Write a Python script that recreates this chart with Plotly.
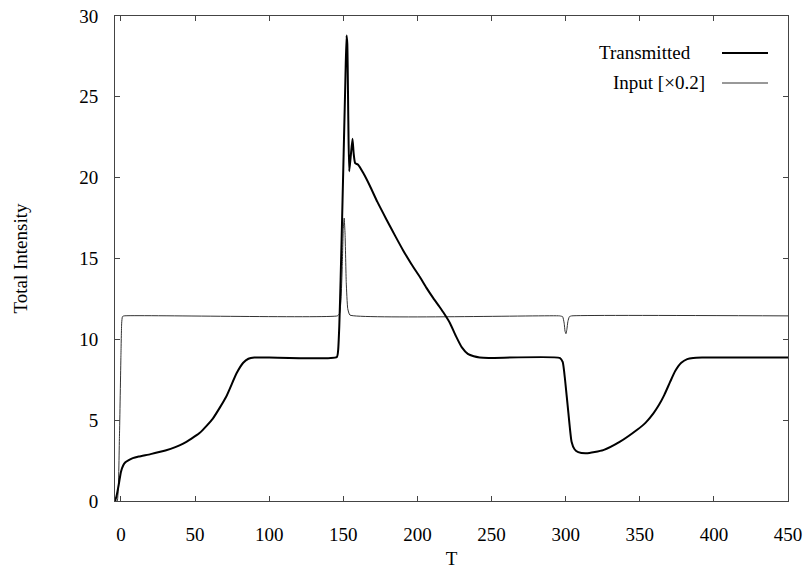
import plotly.graph_objects as go

# Transmitted intensity
trans_T = [-4, -3, -1.5, 0, 1.5, 3, 5, 8, 12, 20, 30, 42, 53, 62, 71, 78, 82.5, 86, 90, 95, 100,
           145.6, 146.5, 147.3, 148.2, 149.5, 150.5, 151.4, 152.2, 152.7, 153.4, 154, 155, 156.2, 157, 158,
           160, 163.4, 167.9, 173, 179.2, 185, 190.4, 196, 201.7, 206, 210.7, 215, 218, 222, 226, 230,
           234, 238, 242, 248,
           296, 298, 299.6, 301.9, 304, 306, 308.5, 314, 325.4, 336.7, 348, 354, 359.2, 363, 366.5, 370.4,
           374, 378, 382, 386, 392, 450]
trans_I = [0.0, 0.3, 1.0, 1.8, 2.2, 2.4, 2.52, 2.65, 2.75, 2.9, 3.12, 3.55, 4.2, 5.1, 6.45, 7.9, 8.55, 8.8, 8.88, 8.88, 8.88,
           8.9, 9.3, 10.8, 13.7, 18.6, 22.5, 26.0, 28.8, 28.3, 23.5, 20.4, 21.3, 22.4, 21.5, 20.9,
           20.8, 20.3, 19.5, 18.5, 17.4, 16.4, 15.5, 14.65, 13.85, 13.2, 12.55, 12.0, 11.6, 11.0, 10.2, 9.5,
           9.1, 8.95, 8.88, 8.85,
           8.85, 8.6, 7.5, 5.4, 3.67, 3.2, 3.02, 2.95, 3.15, 3.67, 4.39, 4.85, 5.42, 5.95, 6.55, 7.35,
           8.05, 8.55, 8.78, 8.85, 8.87, 8.87]

# Input intensity (scaled x0.2)
input_T = [-4, -2.5, -1, 0, 0.5, 1, 2, 146, 147.5, 148.5, 149.3, 150, 150.6, 151.2, 152, 153, 154.5,
           296, 298, 299, 299.6, 300.2, 300.8, 301.5, 302.5, 304, 450]
input_I = [0, 0, 4, 9, 11, 11.4, 11.45, 11.45, 11.6, 12.5, 14.5, 16.8, 17.5, 16.5, 13.5, 11.9, 11.5,
           11.45, 11.4, 11.0, 10.5, 10.35, 10.6, 11.1, 11.4, 11.45, 11.45]

x_ticks = [0, 50, 100, 150, 200, 250, 300, 350, 400, 450]
y_ticks = [0, 5, 10, 15, 20, 25, 30]

FONT = "Liberation Serif"

fig = go.Figure()
fig.add_trace(go.Scatter(x=input_T, y=input_I, mode="lines", name="Input [×0.2]",
                         line=dict(color="#333333", width=1, shape="spline", smoothing=0.4), showlegend=False))
fig.add_trace(go.Scatter(x=trans_T, y=trans_I, mode="lines", name="Transmitted",
                         line=dict(color="black", width=2, shape="spline", smoothing=0.5), showlegend=False))

axis_common = dict(showgrid=False, zeroline=False, showline=True, linecolor="#444444", linewidth=1,
                   mirror="ticks", ticks="inside", ticklen=5, tickcolor="#444444", automargin=False,
                   tickfont=dict(family=FONT, size=19, color="black"))

fig.update_xaxes(range=[-4, 450], tickvals=x_ticks, ticklabelstandoff=16,
                 title=dict(text="T", font=dict(family=FONT, size=19, color="black"), standoff=10),
                 **axis_common)
fig.update_yaxes(range=[0, 30], tickvals=y_ticks, ticklabelstandoff=12,
                 title=dict(text="Total Intensity", font=dict(family=FONT, size=19, color="black"), standoff=46),
                 **axis_common)

# Legend (text left of line sample, as in original)
legend_items = [("Transmitted", 2, "black", 53), ("Input [×0.2]", 1, "#333333", 83)]
W, H = 806, 569
ml, mr, mt, mb = 115, 18, 16, 68
pw, ph = W - ml - mr, H - mt - mb
for text, lw, col, ypix in legend_items:
    yp = 1 - (ypix - mt) / ph
    x_text_right = (707 - ml) / pw if text.startswith("Input") else (693 - ml) / pw
    fig.add_annotation(x=x_text_right, y=yp, xref="paper", yref="paper", text=text, showarrow=False,
                       xanchor="right", yanchor="middle", font=dict(family=FONT, size=19, color="black"))
    fig.add_shape(type="line", xref="paper", yref="paper",
                  x0=(722 - ml) / pw, x1=(768 - ml) / pw, y0=yp, y1=yp,
                  line=dict(color=col, width=lw))

fig.update_layout(width=W, height=H, margin=dict(l=ml, r=mr, t=mt, b=mb),
                  plot_bgcolor="white", paper_bgcolor="white", showlegend=False)

fig.write_html("out.html")
